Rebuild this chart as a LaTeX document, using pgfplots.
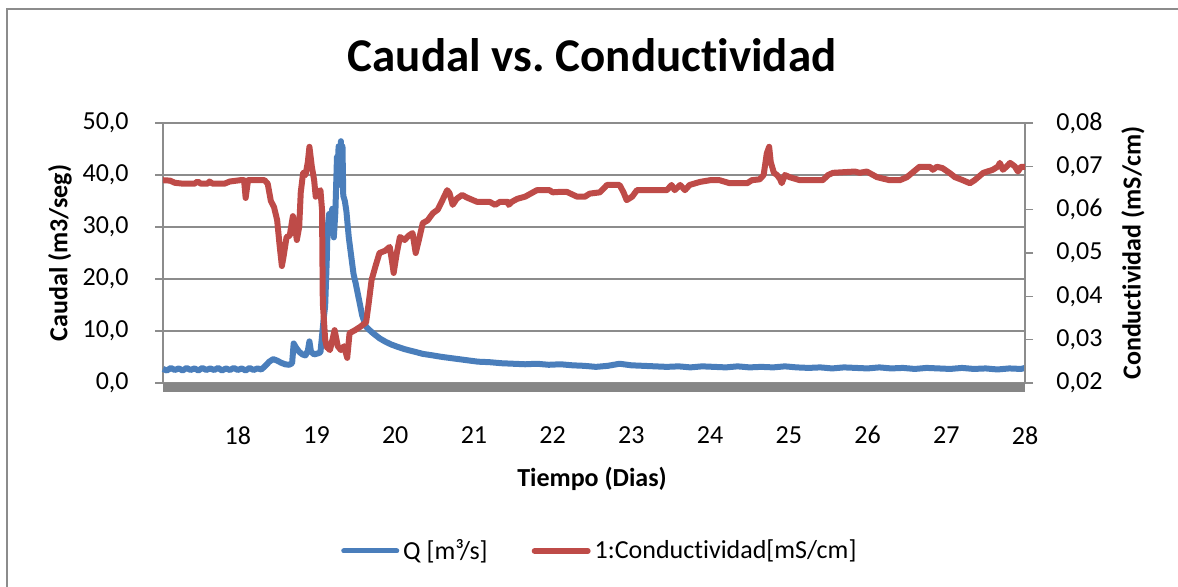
\documentclass[border=0pt]{standalone}
\usepackage{fontspec}
\setmainfont{Carlito}[RawFeature={-liga;-clig;-calt;-dlig}]
\usepackage{pgfplots}
\usepackage{pgfplotstable}
\pgfplotsset{compat=1.18}
\definecolor{qblue}{HTML}{4A7EBB}
\definecolor{cred}{HTML}{BE4B48}
\definecolor{gridgray}{HTML}{8C8C8C}
\definecolor{bandgray}{HTML}{868686}
\frenchspacing

\pgfplotstableread{
day Q
17.05 2.7
17.10 2.4
17.15 2.9
17.20 2.5
17.25 2.8
17.30 2.4
17.35 2.9
17.40 2.5
17.45 2.8
17.50 2.4
17.55 2.9
17.60 2.5
17.65 2.8
17.70 2.5
17.75 2.9
17.80 2.4
17.85 2.8
17.90 2.5
17.95 2.9
18.00 2.5
18.05 2.8
18.10 2.4
18.15 2.9
18.20 2.5
18.25 2.8
18.30 2.6
18.35 3.3
18.40 4.1
18.45 4.6
18.50 4.3
18.55 3.9
18.60 3.6
18.65 3.5
18.69 3.8
18.71 7.6
18.74 6.8
18.78 6.0
18.82 5.5
18.86 5.3
18.89 6.2
18.91 8.0
18.93 6.0
18.97 5.5
19.02 5.7
19.05 5.9
19.07 9.0
19.09 12.2
19.11 14.8
19.13 23.5
19.14 29.5
19.16 32.5
19.18 31.0
19.20 33.5
19.22 28.0
19.24 33.0
19.26 43.5
19.27 38.0
19.28 45.5
19.30 40.0
19.31 46.5
19.32 41.0
19.33 45.5
19.34 36.0
19.36 35.0
19.38 33.0
19.41 28.0
19.44 24.5
19.47 21.0
19.50 19.0
19.54 16.0
19.58 13.0
19.63 10.8
19.70 9.8
19.75 9.2
19.80 8.6
19.88 7.9
19.95 7.4
20.04 6.9
20.12 6.5
20.25 6.0
20.35 5.6
20.48 5.3
20.60 5.0
20.75 4.7
20.90 4.4
21.05 4.1
21.20 4.0
21.35 3.8
21.50 3.7
21.65 3.6
21.80 3.7
21.95 3.5
22.10 3.6
22.25 3.4
22.40 3.3
22.55 3.1
22.70 3.3
22.85 3.7
23.00 3.4
23.15 3.3
23.30 3.2
23.45 3.1
23.60 3.2
23.75 3.0
23.90 3.2
24.05 3.1
24.20 3.0
24.35 3.2
24.50 3.0
24.65 3.1
24.80 3.0
24.95 3.2
25.10 3.0
25.25 2.9
25.40 3.0
25.55 2.8
25.70 3.0
25.85 2.9
26.00 2.8
26.15 3.0
26.30 2.8
26.45 2.9
26.60 2.7
26.75 2.9
26.90 2.8
27.05 2.7
27.20 2.9
27.35 2.7
27.50 2.8
27.65 2.6
27.80 2.8
27.95 2.7
28.00 2.9
}\caudal

\pgfplotstableread{
day C
17.05 0.0668
17.14 0.0667
17.20 0.0662
17.30 0.0660
17.45 0.0660
17.49 0.0665
17.53 0.0660
17.62 0.0660
17.64 0.0665
17.68 0.0660
17.83 0.0660
17.90 0.0665
18.03 0.0668
18.08 0.0668
18.10 0.0627
18.13 0.0668
18.34 0.0668
18.38 0.0660
18.42 0.0620
18.46 0.0606
18.50 0.0576
18.53 0.0520
18.56 0.0470
18.58 0.0490
18.62 0.0537
18.66 0.0540
18.70 0.0585
18.72 0.0570
18.75 0.0530
18.78 0.0560
18.80 0.0640
18.83 0.0685
18.86 0.0680
18.89 0.0710
18.91 0.0745
18.94 0.0700
18.97 0.0668
18.99 0.0630
19.02 0.0640
19.05 0.0645
19.07 0.0600
19.08 0.0385
19.11 0.0300
19.13 0.0283
19.17 0.0276
19.19 0.0290
19.23 0.0322
19.27 0.0285
19.31 0.0276
19.35 0.0285
19.39 0.0258
19.42 0.0315
19.49 0.0322
19.55 0.0329
19.63 0.0340
19.66 0.0380
19.70 0.0438
19.75 0.0470
19.80 0.0500
19.87 0.0505
19.93 0.0514
19.96 0.0480
19.98 0.0454
20.02 0.0500
20.06 0.0537
20.12 0.0530
20.17 0.0540
20.22 0.0546
20.26 0.0500
20.30 0.0530
20.35 0.0569
20.41 0.0575
20.48 0.0592
20.54 0.0600
20.60 0.0622
20.66 0.0645
20.69 0.0638
20.73 0.0611
20.78 0.0625
20.85 0.0634
20.91 0.0628
21.04 0.0618
21.20 0.0618
21.27 0.0611
21.33 0.0618
21.43 0.0618
21.44 0.0611
21.48 0.0618
21.55 0.0625
21.65 0.0630
21.80 0.0645
21.96 0.0645
22.00 0.0640
22.09 0.0641
22.18 0.0641
22.31 0.0630
22.41 0.0630
22.47 0.0637
22.60 0.0640
22.69 0.0657
22.85 0.0657
22.90 0.0640
22.94 0.0622
23.01 0.0630
23.07 0.0645
23.45 0.0645
23.51 0.0657
23.55 0.0645
23.62 0.0657
23.68 0.0645
23.74 0.0657
23.87 0.0664
24.00 0.0668
24.12 0.0668
24.25 0.0661
24.47 0.0661
24.53 0.0668
24.63 0.0670
24.68 0.0680
24.72 0.0730
24.75 0.0745
24.77 0.0710
24.81 0.0685
24.85 0.0680
24.89 0.0670
24.91 0.0661
24.95 0.0680
25.01 0.0675
25.14 0.0668
25.43 0.0668
25.50 0.0680
25.56 0.0685
25.84 0.0688
25.90 0.0685
25.99 0.0688
26.12 0.0675
26.28 0.0668
26.41 0.0668
26.50 0.0675
26.60 0.0690
26.66 0.0699
26.79 0.0699
26.83 0.0692
26.88 0.0699
26.95 0.0696
27.04 0.0685
27.11 0.0675
27.21 0.0668
27.30 0.0661
27.36 0.0668
27.47 0.0685
27.59 0.0692
27.66 0.0700
27.68 0.0708
27.72 0.0692
27.77 0.0700
27.81 0.0708
27.87 0.0700
27.91 0.0688
27.95 0.0699
28.00 0.0699
}\conduct

\pgfplotsset{
  common/.style={
    scale only axis, width=431pt, height=130pt,
    at={(81.5pt,102pt)}, anchor=south west,
    xmin=17.05, xmax=28,
    clip=false,
    tick align=outside,
    major tick length=4pt,
    tick style={gridgray, line width=0.6pt},
    axis line style={gridgray, line width=0.8pt},
    every tick label/.append style={font=\fontsize{13}{15}\selectfont, inner sep=0pt, text=black},
    /pgf/number format/assume math mode=true,
    label style={font=\bfseries\fontsize{13}{15}\selectfont},
  }
}

\begin{document}
\begin{tikzpicture}
\useasboundingbox (0,0) rectangle (589pt,293.5pt);
\draw[gridgray, line width=0.8pt] (3.5pt,-5pt) -- (3.5pt,289pt) -- (600pt,289pt);

\begin{axis}[common,
  axis x line*=bottom, axis y line*=left,
  x axis line style={draw=none},
  xtick={18,19,...,28}, x tick style={draw=none},
  xticklabel style={anchor=north, yshift=-17.5pt},
  ymin=0, ymax=50, ytick={0,10,...,50},
  ymajorgrids, grid style={gridgray, line width=0.75pt},
  y tick label style={anchor=east, xshift=-13pt, /pgf/number format/.cd, fixed, fixed zerofill, precision=1, use comma},
  ylabel={Caudal (m3/seg)},
  ylabel style={at={(axis description cs:-0.1195,0.5)}, anchor=center},
  xlabel={Tiempo (Dias)},
  xlabel style={at={(axis description cs:0.4977,-0.4)}, anchor=base},
  title={Caudal vs.\ Conductividad},
  title style={at={(axis description cs:0.4977,1.1538)}, anchor=base, font=\bfseries\fontsize{23.5}{28}\selectfont},
]
\addplot[bandgray, line width=4.5pt, forget plot] coordinates {(17.05,-0.865) (28,-0.865)};
\addplot[qblue, line width=3pt, line join=round] table[x=day, y=Q] {\caudal};
\end{axis}

\begin{axis}[common,
  axis y line*=right, axis x line=none,
  ymin=0.02, ymax=0.08, ytick={0.02,0.03,0.04,0.05,0.06,0.07,0.08},
  scaled y ticks=false,
  y tick label style={anchor=west, xshift=11.5pt, /pgf/number format/.cd, fixed, fixed zerofill, precision=2, use comma},
  ylabel={Conductividad (mS/cm)},
  ylabel style={at={(axis description cs:1.1253,0.5)}, anchor=center},
  legend style={at={(0.508,-0.646)}, anchor=center, draw=none, fill=none,
    legend columns=2, font=\fontsize{13}{15}\selectfont,
    /tikz/every even column/.append style={column sep=20pt}},
  legend image code/.code={\draw[#1, line cap=round] (0pt,0pt) -- (26.5pt,0pt);},
]
\addlegendimage{qblue, line width=2.5pt}
\addlegendentry{Q [m³/s]}
\addplot[cred, line width=3pt, line join=round] table[x=day, y=C] {\conduct};
\addlegendentry{1:Conductividad[mS/cm]}
\end{axis}
\end{tikzpicture}
\end{document}
